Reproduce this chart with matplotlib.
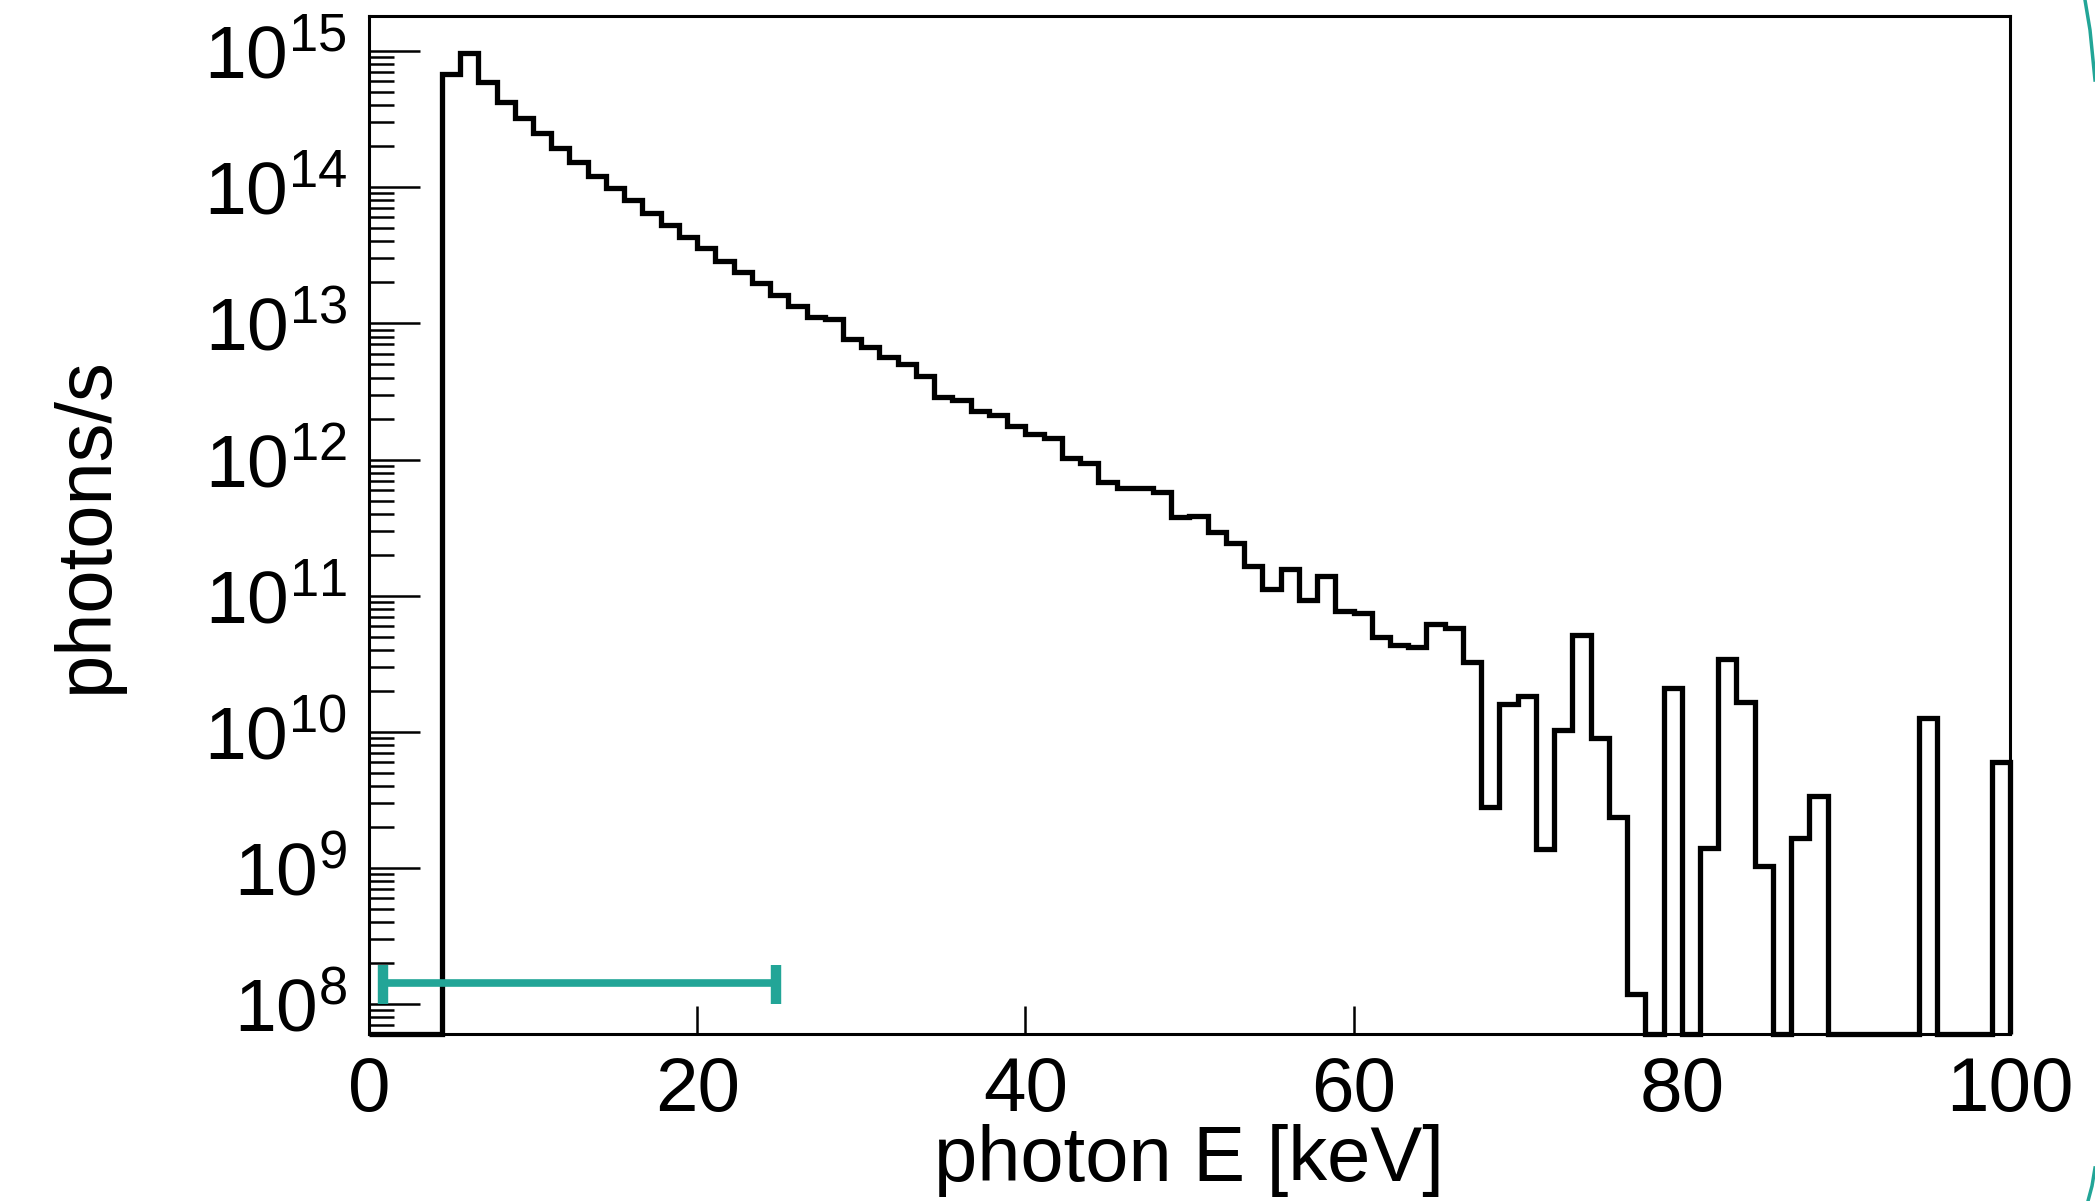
import numpy as np
import matplotlib
matplotlib.use("Agg")
import matplotlib.pyplot as plt
from matplotlib.ticker import LogLocator, FixedLocator, FuncFormatter, NullFormatter
from matplotlib.lines import Line2D

# ---------------- data ----------------
x_min, x_max, n_bins = 0.0, 100.0, 90
# photons/s per bin (0 = empty bin)
rates = [
    0, 0, 0, 0,
    6.78e14, 9.62e14, 5.96e14, 4.25e14, 3.21e14, 2.49e14, 1.95e14, 1.54e14,
    1.21e14, 9.82e13, 8.05e13, 6.43e13, 5.27e13, 4.34e13, 3.56e13, 2.88e13,
    2.40e13, 1.97e13, 1.62e13, 1.34e13, 1.12e13, 1.07e13, 7.67e12, 6.75e12,
    5.70e12, 5.04e12, 4.11e12, 2.90e12, 2.74e12, 2.29e12, 2.12e12, 1.77e12,
    1.54e12, 1.43e12, 1.02e12, 9.40e11, 6.89e11, 6.15e11, 6.22e11, 5.81e11,
    3.81e11, 3.85e11, 2.96e11, 2.45e11, 1.66e11, 1.12e11, 1.56e11, 9.27e10,
    1.39e11, 7.73e10, 7.46e10, 4.97e10, 4.32e10, 4.17e10, 6.19e10, 5.77e10,
    3.27e10, 2.82e9, 1.60e10, 1.82e10, 1.38e9, 1.03e10, 5.14e10, 9.06e9,
    2.37e9, 1.18e8, 0, 2.11e10, 0, 1.40e9, 3.42e10, 1.67e10,
    1.04e9, 0, 1.66e9, 3.39e9, 0, 0, 0, 0,
    0, 1.27e10, 0, 0, 0, 6.05e9,
]
y_min, y_max = 6.03e7, 1.81e15
x_ticks = [0, 20, 40, 60, 80, 100]
y_decades = [8, 9, 10, 11, 12, 13, 14, 15]
x_label = "photon E [keV]"
y_label = "photons/s"

# hand-drawn teal range marker
marker_x = [0.83, 24.8]
marker_y = 1.44e8
marker_bar = [1.0e8, 1.95e8]
teal = "#22a597"

# ---------------- style ----------------
plt.rcParams["font.family"] = ["Liberation Sans", "DejaVu Sans"]
plt.rcParams["mathtext.fontset"] = "custom"
plt.rcParams["mathtext.rm"] = "Liberation Sans"
plt.rcParams["mathtext.it"] = "Liberation Sans:italic"
plt.rcParams["mathtext.bf"] = "Liberation Sans:bold"

fig = plt.figure(figsize=(20.95, 12.01), dpi=100)
ax = fig.add_axes([0.1761, 0.1390, 0.7833, 0.8477])

edges = np.linspace(x_min, x_max, n_bins + 1)
vals = np.array(rates, dtype=float)
plot_vals = np.where(vals > 0, vals, y_min)
ax.stairs(plot_vals, edges, baseline=y_min, color="black", lw=3.8,
          clip_on=False, zorder=3)

ax.set_yscale("log")
ax.set_xlim(x_min, x_max)
ax.set_ylim(y_min, y_max)

ax.xaxis.set_major_locator(FixedLocator(x_ticks))
ax.xaxis.set_minor_locator(FixedLocator([]))
ax.yaxis.set_major_locator(FixedLocator([10.0 ** d for d in y_decades]))
ax.yaxis.set_minor_locator(LogLocator(base=10, subs=np.arange(2, 10), numticks=30))
ax.yaxis.set_minor_formatter(NullFormatter())
ax.yaxis.set_major_formatter(FuncFormatter(
    lambda v, p: r"$\mathregular{10^{%d}}$" % int(round(np.log10(v)))))

ax.tick_params(axis="x", which="major", direction="in", length=20, width=1.8,
               labelsize=55, pad=16, top=False)
ax.tick_params(axis="y", which="major", direction="in", length=37, width=1.8,
               labelsize=54, pad=16, right=False)
ax.tick_params(axis="y", which="minor", direction="in", length=18, width=1.8,
               right=False)

for s in ax.spines.values():
    s.set_linewidth(2.2)

ax.set_xlabel(x_label, fontsize=56)
ax.set_ylabel(y_label, fontsize=56)
ax.xaxis.set_label_coords(0.5, -0.088)
ax.yaxis.set_label_coords(-0.150, 0.5)

# teal marker
ax.plot(marker_x, [marker_y, marker_y], color=teal, lw=5.5, solid_capstyle="butt",
        zorder=4, clip_on=False)
ax.vlines(marker_x, marker_bar[0], marker_bar[1], color=teal, lw=7.5, zorder=4,
          clip_on=False)

# slide frame arcs at right edge
fig.add_artist(Line2D([2085 / 2095, 2090 / 2095, 2095 / 2095],
                      [1.0, 1 - 30 / 1201, 1 - 80 / 1201],
                      transform=fig.transFigure, color=teal, lw=2.5))
fig.add_artist(Line2D([2088 / 2095, 2092 / 2095, 2095 / 2095],
                      [0.0, 15 / 1201, 33 / 1201],
                      transform=fig.transFigure, color=teal, lw=2.5))

fig.savefig("out.png", dpi=100)
